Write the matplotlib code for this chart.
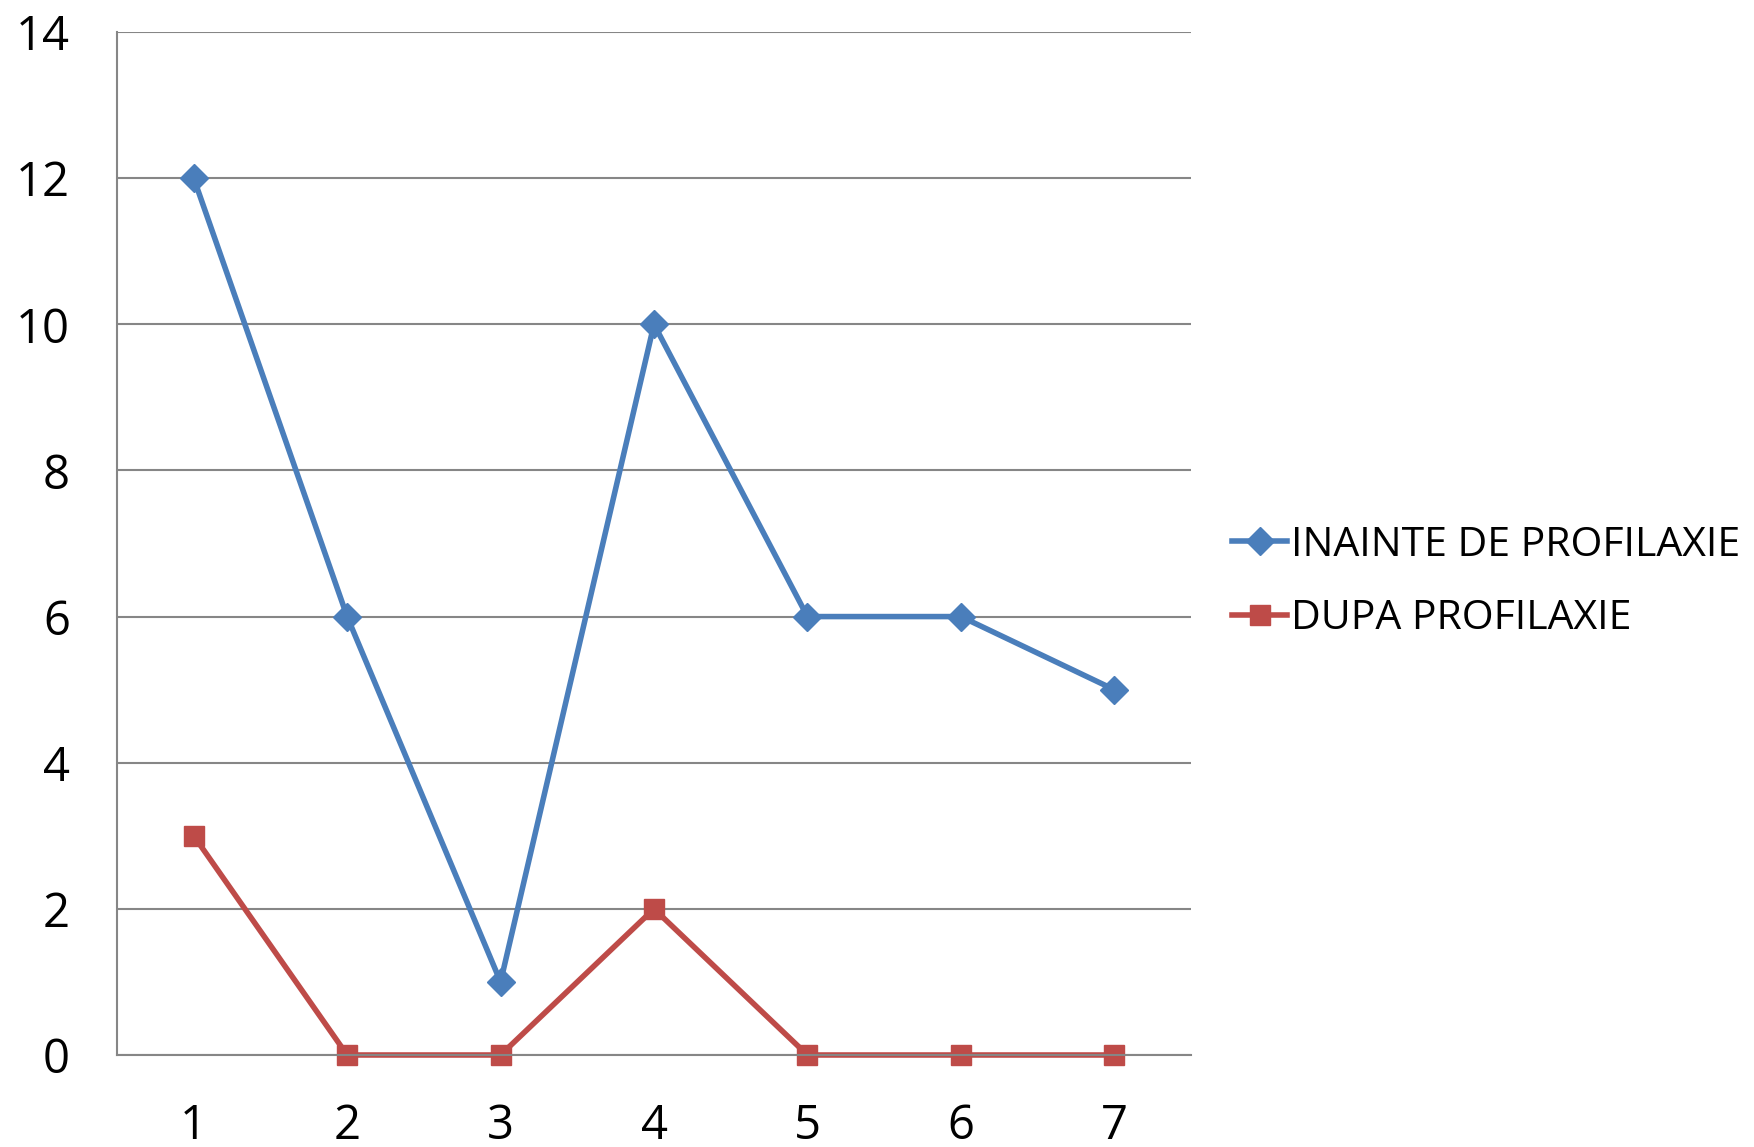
import matplotlib
matplotlib.use("Agg")
import matplotlib.pyplot as plt
from matplotlib.ticker import MultipleLocator

categories = [1, 2, 3, 4, 5, 6, 7]
inainte = [12, 6, 1, 10, 6, 6, 5]
dupa = [3, 0, 0, 2, 0, 0, 0]
series_labels = ["INAINTE DE PROFILAXIE", "DUPA PROFILAXIE"]

plt.rcParams["font.family"] = ["Open Sans", "DejaVu Sans"]

fig = plt.figure(figsize=(17.54, 11.47), dpi=100)
ax = fig.add_axes([117 / 1754, 1 - 1055 / 1147, (1191 - 117) / 1754, (1055 - 32) / 1147])

grid_color = "#868686"
ax.set_xlim(0.5, 7.5)
ax.set_ylim(0, 14)
ax.yaxis.set_major_locator(MultipleLocator(2))
ax.set_xticks(categories)
ax.set_xticklabels([str(c) for c in categories])
ax.grid(axis="y", color=grid_color, linewidth=1.5)
ax.set_axisbelow(True)
for s in ["top", "right"]:
    ax.spines[s].set_visible(False)
ax.spines["left"].set_color(grid_color)
ax.spines["left"].set_linewidth(1.5)
ax.spines["bottom"].set_color(grid_color)
ax.spines["bottom"].set_linewidth(1.5)
ax.tick_params(axis="both", length=0, labelsize=34)
ax.tick_params(axis="y", pad=34)
ax.tick_params(axis="x", pad=34)

ax.plot(categories, inainte, color="#4A7EBB", linewidth=4, marker="D",
        markersize=14, label=series_labels[0], clip_on=False)
ax.plot(categories, dupa, color="#BE4B48", linewidth=4, marker="s",
        markersize=15, label=series_labels[1], clip_on=False)

fig.legend(loc="center left", bbox_to_anchor=(1232 / 1754, 1 - 582 / 1147),
           frameon=False, fontsize=29.5, handlelength=1.35, handletextpad=0.08,
           labelspacing=0.8, borderpad=0, borderaxespad=0)

fig.savefig("out.png", dpi=100)
